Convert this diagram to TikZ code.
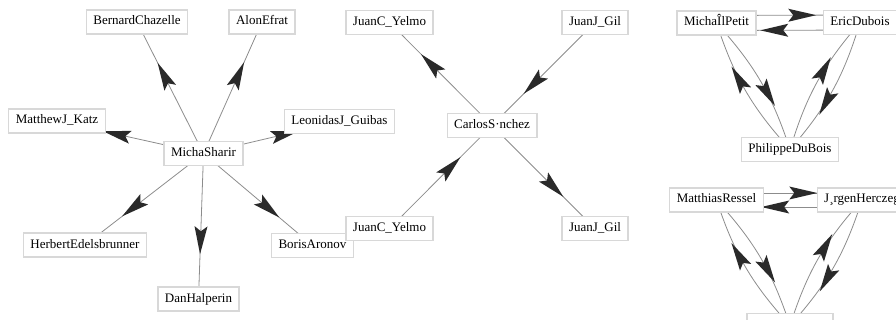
\documentclass[tikz,border=0pt]{standalone}
\usepackage{fontspec}
\setmainfont{Liberation Serif}
\usetikzlibrary{decorations.markings}
\pgfdeclarelayer{background}
\pgfsetlayers{background,main}
\definecolor{boxc}{HTML}{D8D8D8}
\definecolor{linec}{HTML}{8C8C8C}
\definecolor{arrowc}{HTML}{2A2A2A}
\begin{document}
\begin{tikzpicture}[x=1pt,y=-1pt,
  nbox/.style={draw=boxc, fill=white, line width=1.2pt, inner xsep=7pt, inner ysep=0pt,
    minimum height=24pt, text height=9pt, text depth=3pt, font=\fontsize{13}{15}\selectfont},
  lnk/.style={draw=linec, line width=0.8pt, postaction={decorate},
    decoration={markings, mark=at position 0.5 with {\fill[arrowc] (28pt,0pt) -- (0pt,6.5pt) -- (5pt,0pt) -- (0pt,-6.5pt) -- cycle;}}}]
\useasboundingbox (0,0) rectangle (896,320);
% left cluster
\node[nbox] (BC) at (137,22) {BernardChazelle};
\node[nbox] (AE) at (262,22) {AlonEfrat};
\node[nbox] (MK) at (57,121) {MatthewJ\_Katz};
\node[nbox] (LG) at (339.5,121.5) {LeonidasJ\_Guibas};
\node[nbox] (MS) at (203.5,153.5) {MichaSharir};
\node[nbox] (HE) at (85,245) {HerbertEdelsbrunner};
\node[nbox] (DH) at (198.5,299) {DanHalperin};
\node[nbox] (BA) at (312.5,245.5) {BorisAronov};
% middle cluster
\node[nbox] (JCa) at (389.5,22.5) {JuanC\_Yelmo};
\node[nbox] (JJa) at (595,22.5) {JuanJ\_Gil};
\node[nbox] (CS) at (492,125.5) {CarlosS·nchez};
\node[nbox] (JCb) at (389.5,228.5) {JuanC\_Yelmo};
\node[nbox] (JJb) at (595,228.5) {JuanJ\_Gil};
% right clusters
\node[nbox] (MP) at (716.5,23) {MichaÎlPetit};
\node[nbox] (ED) at (860,22.5) {EricDubois};
\node[nbox] (PD) at (790,149.5) {PhilippeDuBois};
\node[nbox] (MR) at (716.5,200) {MatthiasRessel};
\node[nbox] (JH) at (862,200) {J¸rgenHerczeg};
\node[nbox, minimum width=86pt] (BN) at (790,325.5) {};
\begin{pgfonlayer}{background}
\draw[lnk] (MS.center) -- (BC.center);
\draw[lnk] (MS.center) -- (AE.center);
\draw[lnk] (MS.center) -- (MK.center);
\draw[lnk] (MS.center) -- (LG.center);
\draw[lnk] (MS.center) -- (HE.center);
\draw[lnk] (MS.center) -- (DH.center);
\draw[lnk] (MS.center) -- (BA.center);
\draw[lnk] (CS.center) -- (JCa.center);
\draw[lnk] (JJa.center) -- (CS.center);
\draw[lnk] (JCb.center) -- (CS.center);
\draw[lnk] (CS.center) -- (JJb.center);
\draw[lnk] ([yshift=7.5pt]MP.center) -- ([yshift=7.5pt]ED.center);
\draw[lnk] ([yshift=-7.5pt]ED.center) -- ([yshift=-7.5pt]MP.center);
\draw[lnk] (MP.center) to[bend left=12] (PD.center);
\draw[lnk] (PD.center) to[bend left=12] (MP.center);
\draw[lnk] (ED.center) to[bend left=12] (PD.center);
\draw[lnk] (PD.center) to[bend left=12] (ED.center);
\draw[lnk] ([yshift=7pt]MR.center) -- ([yshift=7pt]JH.center);
\draw[lnk] ([yshift=-7pt]JH.center) -- ([yshift=-7pt]MR.center);
\draw[lnk] (MR.center) to[bend left=12] (BN.center);
\draw[lnk] (BN.center) to[bend left=12] (MR.center);
\draw[lnk] (JH.center) to[bend left=12] (BN.center);
\draw[lnk] (BN.center) to[bend left=12] (JH.center);
\end{pgfonlayer}
\end{tikzpicture}
\end{document}
